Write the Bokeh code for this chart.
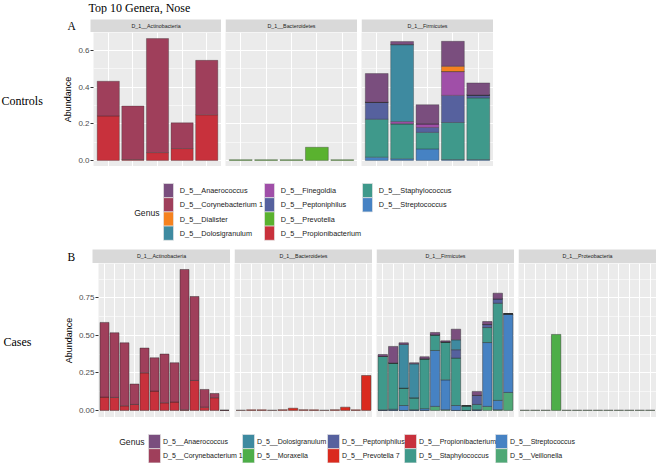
from bokeh.plotting import figure
from bokeh.layouts import row, column
from bokeh.models import (Range1d, FixedTicker, NumeralTickFormatter, Grid, Label, ColumnDataSource, Plot)
from bokeh.core.properties import value
from bokeh.embed import file_html
from bokeh.resources import INLINE

# ------------------------------------------------------------------ data
chart_title = "Top 10 Genera, Nose"
ctrl_phyla = ["D_1__Actinobacteria", "D_1__Bacteroidetes", "D_1__Firmicutes"]
case_phyla = ["D_1__Actinobacteria", "D_1__Bacteroidetes", "D_1__Firmicutes", "D_1__Proteobacteria"]

ctrl_legend = ["D_5__Anaerococcus", "D_5__Corynebacterium 1", "D_5__Dialister", "D_5__Dolosigranulum",
               "D_5__Finegoldia", "D_5__Peptoniphilus", "D_5__Prevotella", "D_5__Propionibacterium",
               "D_5__Staphylococcus", "D_5__Streptococcus"]
case_legend = ["D_5__Anaerococcus", "D_5__Corynebacterium 1", "D_5__Dolosigranulum", "D_5__Moraxella",
               "D_5__Peptoniphilus", "D_5__Prevotella 7", "D_5__Propionibacterium", "D_5__Staphylococcus",
               "D_5__Streptococcus", "D_5__Veillonella"]

genus_colors = {
    "D_5__Anaerococcus": "#7A4E7E",
    "D_5__Corynebacterium 1": "#9F3F5B",
    "D_5__Dialister": "#F5821F",
    "D_5__Dolosigranulum": "#3E8AA0",
    "D_5__Finegoldia": "#A04FA8",
    "D_5__Peptoniphilus": "#56619E",
    "D_5__Prevotella": "#5AB22F",
    "D_5__Propionibacterium": "#C8313C",
    "D_5__Staphylococcus": "#3F998B",
    "D_5__Streptococcus": "#4682C3",
    "D_5__Moraxella": "#4DAE48",
    "D_5__Prevotella 7": "#DA2A1E",
    "D_5__Veillonella": "#4FA876",
}

# Controls (5 samples)
ctrl_actino_propionibacterium = [0.243, 0.005, 0.043, 0.065, 0.249]
ctrl_actino_corynebacterium = [0.189, 0.292, 0.622, 0.140, 0.297]
ctrl_bactero_prevotella = [0.004, 0.004, 0.004, 0.072, 0.004]
ctrl_firmi_streptococcus = [0.018, 0.009, 0.063, 0.005, 0.005]
ctrl_firmi_staphylococcus = [0.207, 0.191, 0.090, 0.202, 0.336]
ctrl_firmi_peptoniphilus = [0.092, 0.0, 0.027, 0.148, 0.016]
ctrl_firmi_finegoldia = [0.0, 0.012, 0.020, 0.130, 0.0]
ctrl_firmi_dolosigranulum = [0.0, 0.420, 0.0, 0.0, 0.0]
ctrl_firmi_dialister = [0.0, 0.0, 0.0, 0.029, 0.0]
ctrl_firmi_anaerococcus = [0.157, 0.017, 0.104, 0.136, 0.066]

# Cases (13 samples)
case_actino_propionibacterium = [0.089, 0.087, 0.031, 0.040, 0.251, 0.129, 0.051, 0.056, 0.004, 0.200, 0.022, 0.085, 0.0]
case_actino_corynebacterium = [0.498, 0.431, 0.420, 0.136, 0.165, 0.222, 0.325, 0.262, 0.936, 0.560, 0.118, 0.028, 0.003]
case_bactero_prevotella7 = [0.002, 0.004, 0.004, 0.002, 0.005, 0.015, 0.005, 0.004, 0.002, 0.005, 0.022, 0.004, 0.233]
case_firmi_veillonella = [0.0, 0.0, 0.0, 0.0, 0.0, 0.027, 0.005, 0.0, 0.0, 0.0, 0.027, 0.005, 0.120]
case_firmi_streptococcus = [0.004, 0.008, 0.033, 0.005, 0.012, 0.373, 0.199, 0.033, 0.0, 0.005, 0.426, 0.062, 0.524]
case_firmi_staphylococcus = [0.356, 0.308, 0.116, 0.079, 0.332, 0.104, 0.252, 0.316, 0.031, 0.035, 0.100, 0.648, 0.0]
case_firmi_peptoniphilus = [0.0, 0.0, 0.0, 0.0, 0.0, 0.0, 0.0, 0.056, 0.0, 0.060, 0.020, 0.029, 0.0]
case_firmi_dolosigranulum = [0.0, 0.0, 0.291, 0.227, 0.0, 0.0, 0.0, 0.066, 0.0, 0.0, 0.0, 0.0, 0.0]
case_firmi_anaerococcus = [0.013, 0.111, 0.011, 0.007, 0.014, 0.016, 0.008, 0.071, 0.0, 0.027, 0.020, 0.038, 0.0]
case_proteo_moraxella = [0.002, 0.002, 0.002, 0.507, 0.002, 0.002, 0.002, 0.002, 0.002, 0.002, 0.002, 0.002, 0.002]

ctrl_yticks = [0.0, 0.2, 0.4, 0.6]
ctrl_yminor = [0.1, 0.3, 0.5]
case_yticks = [0.0, 0.25, 0.5, 0.75]
case_yminor = [0.125, 0.375, 0.625, 0.875]

# stacking order bottom -> top (reverse alphabetical, as ggplot stacks)
ctrl_panels = [
    [("D_5__Propionibacterium", ctrl_actino_propionibacterium),
     ("D_5__Corynebacterium 1", ctrl_actino_corynebacterium)],
    [("D_5__Prevotella", ctrl_bactero_prevotella)],
    [("D_5__Streptococcus", ctrl_firmi_streptococcus),
     ("D_5__Staphylococcus", ctrl_firmi_staphylococcus),
     ("D_5__Peptoniphilus", ctrl_firmi_peptoniphilus),
     ("D_5__Finegoldia", ctrl_firmi_finegoldia),
     ("D_5__Dolosigranulum", ctrl_firmi_dolosigranulum),
     ("D_5__Dialister", ctrl_firmi_dialister),
     ("D_5__Anaerococcus", ctrl_firmi_anaerococcus)],
]
case_panels = [
    [("D_5__Propionibacterium", case_actino_propionibacterium),
     ("D_5__Corynebacterium 1", case_actino_corynebacterium)],
    [("D_5__Prevotella 7", case_bactero_prevotella7)],
    [("D_5__Veillonella", case_firmi_veillonella),
     ("D_5__Streptococcus", case_firmi_streptococcus),
     ("D_5__Staphylococcus", case_firmi_staphylococcus),
     ("D_5__Peptoniphilus", case_firmi_peptoniphilus),
     ("D_5__Dolosigranulum", case_firmi_dolosigranulum),
     ("D_5__Anaerococcus", case_firmi_anaerococcus)],
    [("D_5__Moraxella", case_proteo_moraxella)],
]

# ------------------------------------------------------------------ style
SANS = "Liberation Sans"
SERIF = "Liberation Serif"
PANEL_BG = "#EBEBEB"
STRIP_BG = "#D9D9D9"
W = 656
# keep every figure's frame where its own borders put it (no cross-plot frame alignment)
FA = {"frame_align": False} if "frame_align" in Plot.properties() else {}


def blank_fig(w, h):
    p = figure(width=w, height=h, x_range=Range1d(0, w), y_range=Range1d(0, h),
               min_border=0, x_axis_location=None, y_axis_location=None, toolbar_location=None,
               output_backend="svg", background_fill_color="white", border_fill_color="white",
               outline_line_color=None, **FA)
    p.grid.visible = False
    return p


def make_strip(text, fw, left, strip_h, top, tag=None, tag_y=0.0):
    # strip figure: white canvas, grey facet strip over the panel's width
    p = blank_fig(left + fw, top + strip_h)
    p.quad(left=[left], right=[left + fw], bottom=[0], top=[strip_h],
           fill_color=STRIP_BG, line_color=None)
    p.add_layout(Label(x=left + fw / 2, y=strip_h / 2 + 0.3, text=text, text_font=SANS,
                       text_font_size="5.3px", text_align="center", text_baseline="middle",
                       text_color="#1A1A1A"))
    if tag:
        p.add_layout(Label(x=7, y=tag_y, text=tag, text_font=SERIF, text_font_size="11.5px",
                           text_baseline="middle", text_color="#000000"))
    return p


def make_panel(stacks, n, fw, fh, left, ymax, ymin, yticks, yminor, fmt, line_alpha):
    p = figure(width=fw + left, height=fh, x_range=Range1d(0.4, n + 0.6), y_range=Range1d(ymin, ymax),
               min_border=0, min_border_left=left,
               x_axis_location=None, y_axis_location=("left" if left else None),
               toolbar_location=None, output_backend="svg",
               background_fill_color=PANEL_BG, border_fill_color="white", outline_line_color=None, **FA)
    p.grid.visible = False
    xs = list(range(1, n + 1))
    p.add_layout(Grid(dimension=0, ticker=FixedTicker(ticks=xs), grid_line_color="white",
                      grid_line_width=1.1))
    p.add_layout(Grid(dimension=1, ticker=FixedTicker(ticks=yticks, minor_ticks=yminor),
                      grid_line_color="white", grid_line_width=1.1,
                      minor_grid_line_color="white", minor_grid_line_width=0.55))
    data = {"x": xs}
    names = []
    cols = []
    for name, vals in stacks:
        data[name] = vals
        names.append(name)
        cols.append(genus_colors[name])
    src = ColumnDataSource(data)
    p.vbar_stack(names, x="x", width=0.9, source=src, fill_color=cols,
                 line_color="#2B2B2B", line_alpha=line_alpha, line_width=0.6)
    if left:
        ax = p.yaxis[0]
        ax.ticker = FixedTicker(ticks=yticks)
        ax.formatter = NumeralTickFormatter(format=fmt)
        ax.axis_label = "Abundance"
        ax.axis_label_text_font = SANS
        ax.axis_label_text_font_size = "9px"
        ax.axis_label_text_font_style = "normal"
        ax.axis_label_text_color = "#000000"
        ax.axis_label_standoff = 2
        ax.major_label_text_font = SANS
        ax.major_label_text_font_size = "8px"
        ax.major_label_text_color = "#4D4D4D"
        ax.major_label_standoff = 1
        ax.major_tick_in = 0
        ax.major_tick_out = 3
        ax.major_tick_line_color = "#333333"
        ax.minor_tick_line_color = None
        ax.axis_line_color = None
    return p


def make_legend(names, height, page_top, nrows, col_x, key_w, row_top, row_h, text_dx, font_size,
                genus_x, genus_y):
    # page coordinates -> figure pixel coordinates (figure spans the page width from x = 0)
    p = blank_fig(W, height)
    page_bottom = page_top + height
    left, right, top, bottom, tx, ty, fills = [], [], [], [], [], [], []
    for i, name in enumerate(names):
        c, r = divmod(i, nrows)
        x0 = col_x[c]
        y_top = page_bottom - (row_top + r * row_h)
        left.append(x0)
        right.append(x0 + key_w)
        top.append(y_top)
        bottom.append(y_top - row_h)
        tx.append(x0 + text_dx)
        ty.append(y_top - row_h / 2)
        fills.append(genus_colors[name])
    src = ColumnDataSource(dict(left=left, right=right, top=top, bottom=bottom, tx=tx, ty=ty,
                                fill=fills, label=names))
    p.quad(left="left", right="right", top="top", bottom="bottom", fill_color="fill",
           line_color="#E4E4E4", line_width=0.7, source=src)
    p.text(x="tx", y="ty", text="label", source=src, text_font=value(SANS), text_font_size=font_size,
           text_baseline="middle", text_align="left", text_color="#1A1A1A")
    p.add_layout(Label(x=genus_x, y=page_bottom - genus_y, text="Genus", text_font=SANS,
                       text_font_size="8.6px", text_align="right", text_baseline="middle",
                       text_color="#1A1A1A"))
    return p


# ------------------------------------------------------------------ header (page y 0..14)
HEADER_H = 14
header = blank_fig(W, HEADER_H)
header.add_layout(Label(x=88, y=7, text=chart_title, text_font=SERIF, text_font_size="12px",
                        text_baseline="middle", text_color="#000000"))

# ------------------------------------------------------------------ section A (Controls)
# strips page y 14..32 (grey 19..32), panels 32..166
A_FWS, A_FH, A_LB, A_SH, A_ST = [131, 132, 132], 134, 30, 13, 5
leftA = blank_fig(56, A_ST + A_SH + A_FH)
leftA.add_layout(Label(x=1, y=66, text="Controls", text_font=SERIF, text_font_size="12px",
                       text_baseline="middle", text_color="#000000"))
colsA = [leftA]
for i, (ph, stacks) in enumerate(zip(ctrl_phyla, ctrl_panels)):
    lb = A_LB if i == 0 else 0
    fw = A_FWS[i]
    s = make_strip(ph, fw, lb, A_SH, A_ST, tag=("A" if i == 0 else None), tag_y=6.4)
    pn = make_panel(stacks, 5, fw, A_FH, lb, 0.698, -0.033, ctrl_yticks, ctrl_yminor, "0.0", 0.55)
    colsA.append(column(s, pn, spacing=0))
rowA = row(*colsA, spacing=4)

# legend A: page y 166..244
legA = make_legend(ctrl_legend, 78, 166, 4, [163, 264, 362], 10, 183, 14.2, 16.3, "7.3px", 159, 212)

# ------------------------------------------------------------------ section B (Cases)
# strips page y 244..263 (grey 249..263), panels 263..417
B_FW, B_FH, B_LB, B_SH, B_ST = 138, 154, 32, 14, 5
leftB = blank_fig(56, B_ST + B_SH + B_FH)
leftB.add_layout(Label(x=3, y=75.5, text="Cases", text_font=SERIF, text_font_size="12px",
                       text_baseline="middle", text_color="#000000"))
colsB = [leftB]
for i, (ph, stacks) in enumerate(zip(case_phyla, case_panels)):
    lb = B_LB if i == 0 else 0
    s = make_strip(ph, B_FW, lb, B_SH, B_ST, tag=("B" if i == 0 else None), tag_y=6.5)
    pn = make_panel(stacks, 13, B_FW, B_FH, lb, 0.98, -0.047, case_yticks, case_yminor, "0.00", 0.75)
    colsB.append(column(s, pn, spacing=0))
rowB = row(*colsB, spacing=4)

# legend B: page y 417..463
legB = make_legend(case_legend, 46, 417, 2, [148, 242, 327, 404, 495], 12, 434, 14.2, 14.5, "7px", 144, 441)

layout = column(header, rowA, legA, rowB, legB, spacing=0)

open("out.html", "w").write(file_html(layout, INLINE))
